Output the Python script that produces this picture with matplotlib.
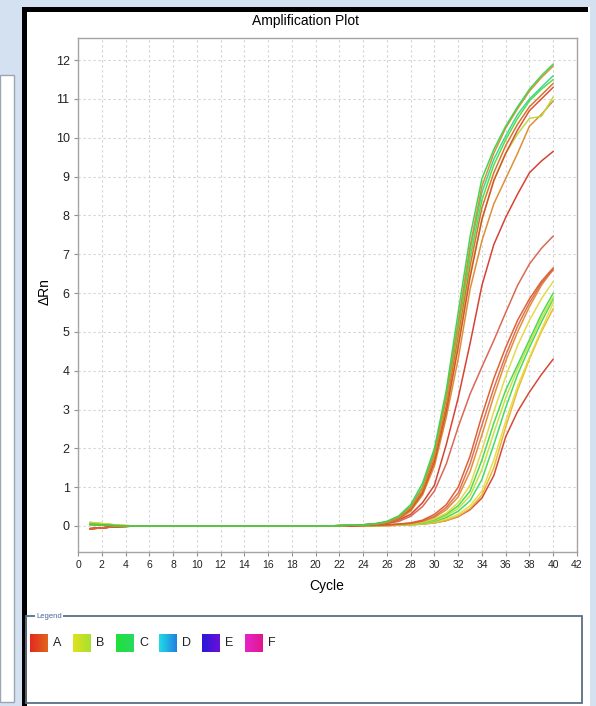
import matplotlib
matplotlib.use("Agg")
import matplotlib.pyplot as plt
import numpy as np
from matplotlib import font_manager
from matplotlib.patches import Rectangle

W, H = 596, 706

# cycles 1..40; each curve = early (1-4) + flat baseline (5-20) + tail (21-40)
cycles = list(range(1, 41))
early_yellow = [0.09, 0.06, 0.03, 0.01]
early_red = [-0.07, -0.05, -0.02, -0.01]
early_mid = [0.04, 0.03, 0.01, 0.0]
flat = [0.0] * 16

# high group (early Ct)
h1_green = [0.0, 0.01, 0.02, 0.03, 0.06, 0.12, 0.26, 0.55, 1.1, 2.0, 3.5, 5.5, 7.45, 8.95, 9.7, 10.3, 10.8, 11.25, 11.6, 11.9]
h2_orange = [0.0, 0.01, 0.02, 0.03, 0.05, 0.1, 0.22, 0.48, 0.98, 1.85, 3.3, 5.2, 7.2, 8.75, 9.6, 10.25, 10.75, 11.2, 11.55, 11.85]
h3_teal = [0.0, 0.01, 0.02, 0.03, 0.05, 0.1, 0.23, 0.5, 1.0, 1.9, 3.35, 5.25, 7.1, 8.6, 9.45, 10.05, 10.6, 11.0, 11.3, 11.6]
h4_green = [0.0, 0.01, 0.02, 0.03, 0.05, 0.11, 0.24, 0.5, 1.0, 1.9, 3.3, 5.1, 6.9, 8.4, 9.3, 9.95, 10.5, 10.95, 11.25, 11.5]
h5_red = [0.0, 0.01, 0.02, 0.03, 0.05, 0.1, 0.2, 0.45, 0.9, 1.75, 3.1, 4.9, 6.7, 8.2, 9.1, 9.8, 10.35, 10.8, 11.1, 11.4]
h6_lime = [0.0, 0.01, 0.02, 0.03, 0.05, 0.1, 0.2, 0.42, 0.88, 1.7, 3.0, 4.7, 6.5, 7.9, 8.9, 9.6, 10.1, 10.5, 10.55, 11.05]
h7_orange = [0.0, 0.01, 0.02, 0.03, 0.04, 0.09, 0.18, 0.38, 0.8, 1.55, 2.8, 4.3, 6.1, 7.35, 8.3, 8.95, 9.6, 10.3, 10.6, 10.95]
h8_red = [0.0, 0.01, 0.02, 0.03, 0.05, 0.1, 0.2, 0.42, 0.85, 1.65, 2.95, 4.6, 6.4, 7.9, 8.9, 9.6, 10.2, 10.7, 11.0, 11.3]

# two red curves in between
r1_red = [0.0, 0.0, 0.01, 0.02, 0.04, 0.08, 0.16, 0.3, 0.6, 1.05, 2.1, 3.3, 4.7, 6.2, 7.25, 7.95, 8.55, 9.1, 9.4, 9.65]
r2_salmon = [0.0, 0.0, 0.01, 0.02, 0.03, 0.06, 0.12, 0.25, 0.5, 0.9, 1.6, 2.55, 3.4, 4.1, 4.78, 5.5, 6.2, 6.75, 7.15, 7.47]

# low group (late Ct)
l1_red = [0.0, 0.0, 0.0, 0.01, 0.02, 0.03, 0.05, 0.08, 0.15, 0.3, 0.55, 1.0, 1.8, 2.85, 3.8, 4.6, 5.3, 5.85, 6.3, 6.65]
l2_salmon = [0.0, 0.0, 0.0, 0.01, 0.02, 0.03, 0.05, 0.07, 0.13, 0.25, 0.48, 0.85, 1.6, 2.6, 3.55, 4.4, 5.15, 5.75, 6.25, 6.6]
l3_orange = [0.0, 0.0, 0.0, 0.01, 0.01, 0.02, 0.04, 0.06, 0.12, 0.22, 0.42, 0.75, 1.4, 2.35, 3.35, 4.25, 5.0, 5.65, 6.2, 6.62]
l4_yellow = [0.0, 0.0, 0.0, 0.01, 0.01, 0.02, 0.03, 0.05, 0.1, 0.18, 0.33, 0.6, 1.05, 1.95, 2.95, 3.85, 4.65, 5.3, 5.85, 6.3]
l5_green = [0.0, 0.0, 0.0, 0.01, 0.01, 0.02, 0.03, 0.05, 0.09, 0.16, 0.3, 0.52, 0.9, 1.7, 2.65, 3.5, 4.15, 4.8, 5.45, 6.0]
l6_lime = [0.0, 0.0, 0.0, 0.0, 0.01, 0.02, 0.03, 0.04, 0.08, 0.14, 0.26, 0.45, 0.78, 1.45, 2.4, 3.3, 4.05, 4.7, 5.35, 5.9]
l7_green = [0.0, 0.0, 0.0, 0.0, 0.01, 0.02, 0.03, 0.04, 0.07, 0.12, 0.22, 0.38, 0.65, 1.2, 2.1, 3.05, 3.9, 4.6, 5.25, 5.85]
l8_yellow = [0.0, 0.0, 0.0, 0.0, 0.01, 0.01, 0.02, 0.03, 0.06, 0.1, 0.18, 0.3, 0.52, 0.9, 1.7, 2.7, 3.6, 4.35, 5.05, 5.75]
l9_amber = [0.0, 0.0, 0.0, 0.0, 0.01, 0.01, 0.02, 0.03, 0.05, 0.08, 0.14, 0.25, 0.45, 0.8, 1.5, 2.55, 3.5, 4.3, 5.0, 5.6]
l10_red = [0.0, 0.0, 0.0, 0.0, 0.01, 0.01, 0.02, 0.03, 0.05, 0.08, 0.14, 0.24, 0.42, 0.72, 1.3, 2.3, 2.95, 3.45, 3.9, 4.3]

x_ticks = list(range(0, 43, 2))
y_ticks = list(range(0, 13))

legend_labels = ["A", "B", "C", "D", "E", "F"]
legend_left = ["#e42a1e", "#dfe21c", "#1fe03a", "#22dbe6", "#2a18d8", "#e624c8"]
legend_right = ["#e0641e", "#a8e030", "#2ad860", "#2080e0", "#6a10d8", "#e01890"]

curves = [
    (early_red, l10_red, "#d2402c"),
    (early_yellow, l9_amber, "#e8b432"),
    (early_yellow, l8_yellow, "#e6dc3c"),
    (early_mid, l7_green, "#3cd85c"),
    (early_yellow, l6_lime, "#c6e03e"),
    (early_mid, l5_green, "#42d848"),
    (early_yellow, l4_yellow, "#e2d842"),
    (early_mid, l3_orange, "#e2882e"),
    (early_red, l2_salmon, "#dc6a50"),
    (early_red, l1_red, "#de5a2a"),
    (early_red, r2_salmon, "#d8604c"),
    (early_red, r1_red, "#d23a2a"),
    (early_mid, h7_orange, "#da8a2c"),
    (early_yellow, h6_lime, "#b8d83a"),
    (early_red, h8_red, "#d84c28"),
    (early_red, h5_red, "#dd6a28"),
    (early_mid, h4_green, "#50dc42"),
    (early_mid, h3_teal, "#36d88c"),
    (early_mid, h2_orange, "#e08a30"),
    (early_mid, h1_green, "#3ad34a"),
]

names = {f.name for f in font_manager.fontManager.ttflist}
NARROW = "Liberation Sans Narrow" if "Liberation Sans Narrow" in names else "Liberation Sans"
FAM = [NARROW, "DejaVu Sans"]

fig = plt.figure(figsize=(W / 100, H / 100), dpi=100)
fig.patch.set_facecolor("#d3e1f1")

# screenshot frame drawn in pixel coordinates
bg = fig.add_axes([0, 0, 1, 1], zorder=-1)
bg.set_xlim(0, W)
bg.set_ylim(H, 0)
bg.axis("off")
bg.add_patch(Rectangle((0, 75), 14, 627, facecolor="white", edgecolor="#9aa6b2", lw=1))
bg.add_patch(Rectangle((22, 7), 568, 700, facecolor="white", edgecolor="none"))
bg.add_patch(Rectangle((22, 7), 566, 5, facecolor="black", edgecolor="none"))
bg.add_patch(Rectangle((22, 7), 5, 700, facecolor="black", edgecolor="none"))

# legend panel
bg.add_patch(Rectangle((26, 616), 556, 87, facecolor="none", edgecolor="#5a7082", lw=1.3))
bg.text(36, 616, "Legend", fontsize=5.5, color="#4a64a0", family=FAM, va="center", ha="left",
        bbox=dict(facecolor="white", edgecolor="none", pad=0.6))
for i, label in enumerate(legend_labels):
    x0 = 30 + 43 * i
    grad = np.linspace(0, 1, 20)[None, :, None]
    c0 = np.array(matplotlib.colors.to_rgb(legend_left[i]))
    c1 = np.array(matplotlib.colors.to_rgb(legend_right[i]))
    img = c0 * (1 - grad) + c1 * grad
    bg.imshow(np.repeat(img, 2, axis=0), extent=(x0, x0 + 18, 652, 634), aspect="auto",
              interpolation="bilinear", zorder=3)
    bg.text(x0 + 23, 643, label, fontsize=9, family=FAM, va="center", ha="left", color="#222222")
bg.set_xlim(0, W)
bg.set_ylim(H, 0)

# amplification plot
ax = fig.add_axes([78 / W, 1 - 552 / H, 499 / W, 514 / H])
for early, tail, color in curves:
    ax.plot(cycles, early + flat + tail, color=color, lw=1.1, alpha=0.95, solid_capstyle="round")

ax.set_xlim(0, 42)
ax.set_ylim(-0.67, 12.57)
ax.set_xticks(x_ticks)
ax.set_yticks(y_ticks)
ax.grid(True, color="#d2d2d2", linestyle=(0, (2, 2.5)), linewidth=0.8)
ax.set_axisbelow(True)
for s in ax.spines.values():
    s.set_color("#a4a4a4")
    s.set_linewidth(1.0)
ax.tick_params(direction="out", length=3, width=0.8, color="#909090", pad=3)
ax.tick_params(axis="x", labelsize=7.5)
ax.tick_params(axis="y", labelsize=9)
for lab in ax.get_xticklabels() + ax.get_yticklabels():
    lab.set_family(FAM)
    lab.set_color("#222222")

fig.text(305 / W, 1 - 21 / H, "Amplification Plot", ha="center", va="center", fontsize=10, family=FAM)
fig.text(327 / W, 1 - 586 / H, "Cycle", ha="center", va="center", fontsize=10, family=FAM)
fig.text(45 / W, 1 - 292 / H, "ΔRn", ha="center", va="center", rotation=90, fontsize=10, family=FAM)

fig.savefig("out.png", dpi=100, facecolor=fig.get_facecolor())
